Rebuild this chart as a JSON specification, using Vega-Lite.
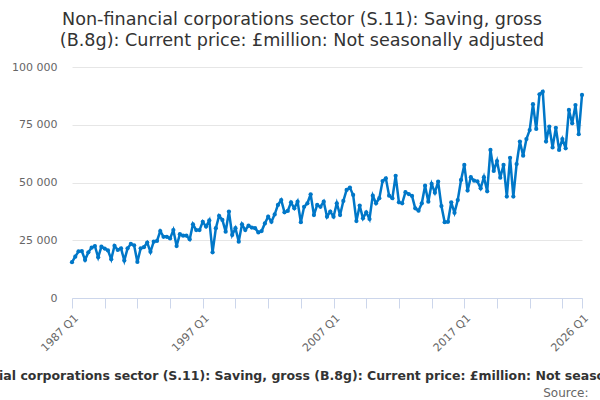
{
  "$schema": "https://vega.github.io/schema/vega-lite/v6.json",
  "autosize": "none",
  "width": 510,
  "height": 231,
  "padding": {"left": 72, "top": 67, "right": 18, "bottom": 102},
  "background": "white",
  "config": {
    "font": "DejaVu Sans",
    "view": {"stroke": null}
  },
  "title": {
    "text": ["Non-financial corporations sector (S.11): Saving, gross", "(B.8g): Current price: £million: Not seasonally adjusted"],
    "fontSize": 17.6,
    "fontWeight": "normal",
    "color": "#333333",
    "anchor": "middle",
    "frame": "group",
    "dx": -25,
    "lineHeight": 21,
    "offset": 11
  },
  "data": {
    "values": [
      {"quarter": "1987 Q1", "value": 15500}, {"quarter": "1987 Q2", "value": 17900}, {"quarter": "1987 Q3", "value": 20200}, {"quarter": "1987 Q4", "value": 20300},
      {"quarter": "1988 Q1", "value": 16500}, {"quarter": "1988 Q2", "value": 19800}, {"quarter": "1988 Q3", "value": 21800}, {"quarter": "1988 Q4", "value": 22500},
      {"quarter": "1989 Q1", "value": 17600}, {"quarter": "1989 Q2", "value": 22200}, {"quarter": "1989 Q3", "value": 21400}, {"quarter": "1989 Q4", "value": 20600},
      {"quarter": "1990 Q1", "value": 16800}, {"quarter": "1990 Q2", "value": 22600}, {"quarter": "1990 Q3", "value": 20800}, {"quarter": "1990 Q4", "value": 21500},
      {"quarter": "1991 Q1", "value": 16200}, {"quarter": "1991 Q2", "value": 21500}, {"quarter": "1991 Q3", "value": 23400}, {"quarter": "1991 Q4", "value": 22800},
      {"quarter": "1992 Q1", "value": 15600}, {"quarter": "1992 Q2", "value": 21500}, {"quarter": "1992 Q3", "value": 22000}, {"quarter": "1992 Q4", "value": 24000},
      {"quarter": "1993 Q1", "value": 20000}, {"quarter": "1993 Q2", "value": 24400}, {"quarter": "1993 Q3", "value": 24700}, {"quarter": "1993 Q4", "value": 29000},
      {"quarter": "1994 Q1", "value": 26500}, {"quarter": "1994 Q2", "value": 26500}, {"quarter": "1994 Q3", "value": 25800}, {"quarter": "1994 Q4", "value": 29400},
      {"quarter": "1995 Q1", "value": 22500}, {"quarter": "1995 Q2", "value": 27600}, {"quarter": "1995 Q3", "value": 27000}, {"quarter": "1995 Q4", "value": 27000},
      {"quarter": "1996 Q1", "value": 25400}, {"quarter": "1996 Q2", "value": 31900}, {"quarter": "1996 Q3", "value": 29400}, {"quarter": "1996 Q4", "value": 29400},
      {"quarter": "1997 Q1", "value": 33000}, {"quarter": "1997 Q2", "value": 30900}, {"quarter": "1997 Q3", "value": 33600}, {"quarter": "1997 Q4", "value": 19800},
      {"quarter": "1998 Q1", "value": 30200}, {"quarter": "1998 Q2", "value": 35600}, {"quarter": "1998 Q3", "value": 33800}, {"quarter": "1998 Q4", "value": 28700},
      {"quarter": "1999 Q1", "value": 37400}, {"quarter": "1999 Q2", "value": 27300}, {"quarter": "1999 Q3", "value": 30200}, {"quarter": "1999 Q4", "value": 24400},
      {"quarter": "2000 Q1", "value": 31900}, {"quarter": "2000 Q2", "value": 29400}, {"quarter": "2000 Q3", "value": 31300}, {"quarter": "2000 Q4", "value": 30500},
      {"quarter": "2001 Q1", "value": 30200}, {"quarter": "2001 Q2", "value": 28400}, {"quarter": "2001 Q3", "value": 29000}, {"quarter": "2001 Q4", "value": 32300},
      {"quarter": "2002 Q1", "value": 35200}, {"quarter": "2002 Q2", "value": 33000}, {"quarter": "2002 Q3", "value": 36200}, {"quarter": "2002 Q4", "value": 40300},
      {"quarter": "2003 Q1", "value": 42400}, {"quarter": "2003 Q2", "value": 37100}, {"quarter": "2003 Q3", "value": 37700}, {"quarter": "2003 Q4", "value": 41400},
      {"quarter": "2004 Q1", "value": 38800}, {"quarter": "2004 Q2", "value": 41700}, {"quarter": "2004 Q3", "value": 32800}, {"quarter": "2004 Q4", "value": 39500},
      {"quarter": "2005 Q1", "value": 41000}, {"quarter": "2005 Q2", "value": 44900}, {"quarter": "2005 Q3", "value": 35900}, {"quarter": "2005 Q4", "value": 40300},
      {"quarter": "2006 Q1", "value": 39500}, {"quarter": "2006 Q2", "value": 41700}, {"quarter": "2006 Q3", "value": 35200}, {"quarter": "2006 Q4", "value": 37400},
      {"quarter": "2007 Q1", "value": 35200}, {"quarter": "2007 Q2", "value": 41000}, {"quarter": "2007 Q3", "value": 35900}, {"quarter": "2007 Q4", "value": 42000},
      {"quarter": "2008 Q1", "value": 46800}, {"quarter": "2008 Q2", "value": 47800}, {"quarter": "2008 Q3", "value": 44600}, {"quarter": "2008 Q4", "value": 33300},
      {"quarter": "2009 Q1", "value": 40000}, {"quarter": "2009 Q2", "value": 34500}, {"quarter": "2009 Q3", "value": 37100}, {"quarter": "2009 Q4", "value": 34200},
      {"quarter": "2010 Q1", "value": 44300}, {"quarter": "2010 Q2", "value": 41000}, {"quarter": "2010 Q3", "value": 43200}, {"quarter": "2010 Q4", "value": 50600},
      {"quarter": "2011 Q1", "value": 51800}, {"quarter": "2011 Q2", "value": 44300}, {"quarter": "2011 Q3", "value": 43200}, {"quarter": "2011 Q4", "value": 52900},
      {"quarter": "2012 Q1", "value": 41400}, {"quarter": "2012 Q2", "value": 41000}, {"quarter": "2012 Q3", "value": 45800}, {"quarter": "2012 Q4", "value": 45000},
      {"quarter": "2013 Q1", "value": 44200}, {"quarter": "2013 Q2", "value": 38800}, {"quarter": "2013 Q3", "value": 37800}, {"quarter": "2013 Q4", "value": 41000},
      {"quarter": "2014 Q1", "value": 48600}, {"quarter": "2014 Q2", "value": 41700}, {"quarter": "2014 Q3", "value": 49400}, {"quarter": "2014 Q4", "value": 45600},
      {"quarter": "2015 Q1", "value": 50400}, {"quarter": "2015 Q2", "value": 39800}, {"quarter": "2015 Q3", "value": 32800}, {"quarter": "2015 Q4", "value": 33000},
      {"quarter": "2016 Q1", "value": 41400}, {"quarter": "2016 Q2", "value": 36900}, {"quarter": "2016 Q3", "value": 42400}, {"quarter": "2016 Q4", "value": 51100},
      {"quarter": "2017 Q1", "value": 57600}, {"quarter": "2017 Q2", "value": 46500}, {"quarter": "2017 Q3", "value": 52300}, {"quarter": "2017 Q4", "value": 50800},
      {"quarter": "2018 Q1", "value": 50500}, {"quarter": "2018 Q2", "value": 47500}, {"quarter": "2018 Q3", "value": 52300}, {"quarter": "2018 Q4", "value": 46200},
      {"quarter": "2019 Q1", "value": 64100}, {"quarter": "2019 Q2", "value": 55000}, {"quarter": "2019 Q3", "value": 59300}, {"quarter": "2019 Q4", "value": 52100},
      {"quarter": "2020 Q1", "value": 57600}, {"quarter": "2020 Q2", "value": 43900}, {"quarter": "2020 Q3", "value": 60700}, {"quarter": "2020 Q4", "value": 43900},
      {"quarter": "2021 Q1", "value": 58000}, {"quarter": "2021 Q2", "value": 67700}, {"quarter": "2021 Q3", "value": 61600}, {"quarter": "2021 Q4", "value": 68800},
      {"quarter": "2022 Q1", "value": 72700}, {"quarter": "2022 Q2", "value": 83900}, {"quarter": "2022 Q3", "value": 73200}, {"quarter": "2022 Q4", "value": 88200},
      {"quarter": "2023 Q1", "value": 89300}, {"quarter": "2023 Q2", "value": 67700}, {"quarter": "2023 Q3", "value": 74200}, {"quarter": "2023 Q4", "value": 65200},
      {"quarter": "2024 Q1", "value": 73700}, {"quarter": "2024 Q2", "value": 64100}, {"quarter": "2024 Q3", "value": 68800}, {"quarter": "2024 Q4", "value": 64800},
      {"quarter": "2025 Q1", "value": 81400}, {"quarter": "2025 Q2", "value": 75600}, {"quarter": "2025 Q3", "value": 83500}, {"quarter": "2025 Q4", "value": 70900},
      {"quarter": "2026 Q1", "value": 87900}
    ]
  },
  "mark": {
    "type": "line",
    "strokeWidth": 2.5,
    "point": {"filled": true, "size": 18}
  },
  "encoding": {
    "x": {
      "field": "quarter",
      "type": "ordinal",
      "sort": null,
      "scale": {"type": "point", "padding": 0},
      "axis": {
        "title": "Source:",
        "titleFontSize": 12,
        "titleFontWeight": "normal",
        "titleColor": "#666666",
        "titleAlign": "right",
        "titleAnchor": null,
        "titleX": 516,
        "titleY": 94,
        "titleBaseline": "middle",
        "values": ["1987 Q1", "1989 Q3", "1992 Q1", "1994 Q3", "1997 Q1", "1999 Q3", "2002 Q1", "2004 Q3", "2007 Q1", "2009 Q3", "2012 Q1", "2014 Q3", "2017 Q1", "2019 Q3", "2022 Q1", "2024 Q3", "2026 Q1"],
        "labelExpr": "datum.value == '1987 Q1' || datum.value == '1997 Q1' || datum.value == '2007 Q1' || datum.value == '2017 Q1' || datum.value == '2026 Q1' ? datum.value : ''",
        "labelAngle": -45,
        "labelFontSize": 11,
        "labelColor": "#666666",
        "labelPadding": 4,
        "domainColor": "#ccd6eb",
        "tickColor": "#ccd6eb",
        "tickSize": 10,
        "grid": false
      }
    },
    "y": {
      "field": "value",
      "type": "quantitative",
      "scale": {"domain": [0, 100000]},
      "axis": {
        "title": null,
        "values": [0, 25000, 50000, 75000, 100000],
        "labelExpr": "datum.value == 0 ? '0' : format(floor(datum.value / 1000), 'd') + ' ' + format(datum.value % 1000, '03d')",
        "labelFontSize": 11,
        "labelColor": "#666666",
        "labelPadding": 15,
        "domain": false,
        "ticks": false,
        "gridColor": "#e6e6e6"
      }
    },
    "color": {
      "datum": "Non-financial corporations sector (S.11): Saving, gross (B.8g): Current price: £million: Not seasonally adjusted",
      "scale": {"range": ["#0077c8"]},
      "legend": {
        "title": null,
        "orient": "none",
        "legendX": -170,
        "legendY": 300,
        "labelFontSize": 12.5,
        "labelFontWeight": "bold",
        "labelColor": "#333333",
        "labelLimit": 2000,
        "symbolType": "stroke",
        "symbolStrokeWidth": 2.5,
        "symbolSize": 200
      }
    }
  }
}
